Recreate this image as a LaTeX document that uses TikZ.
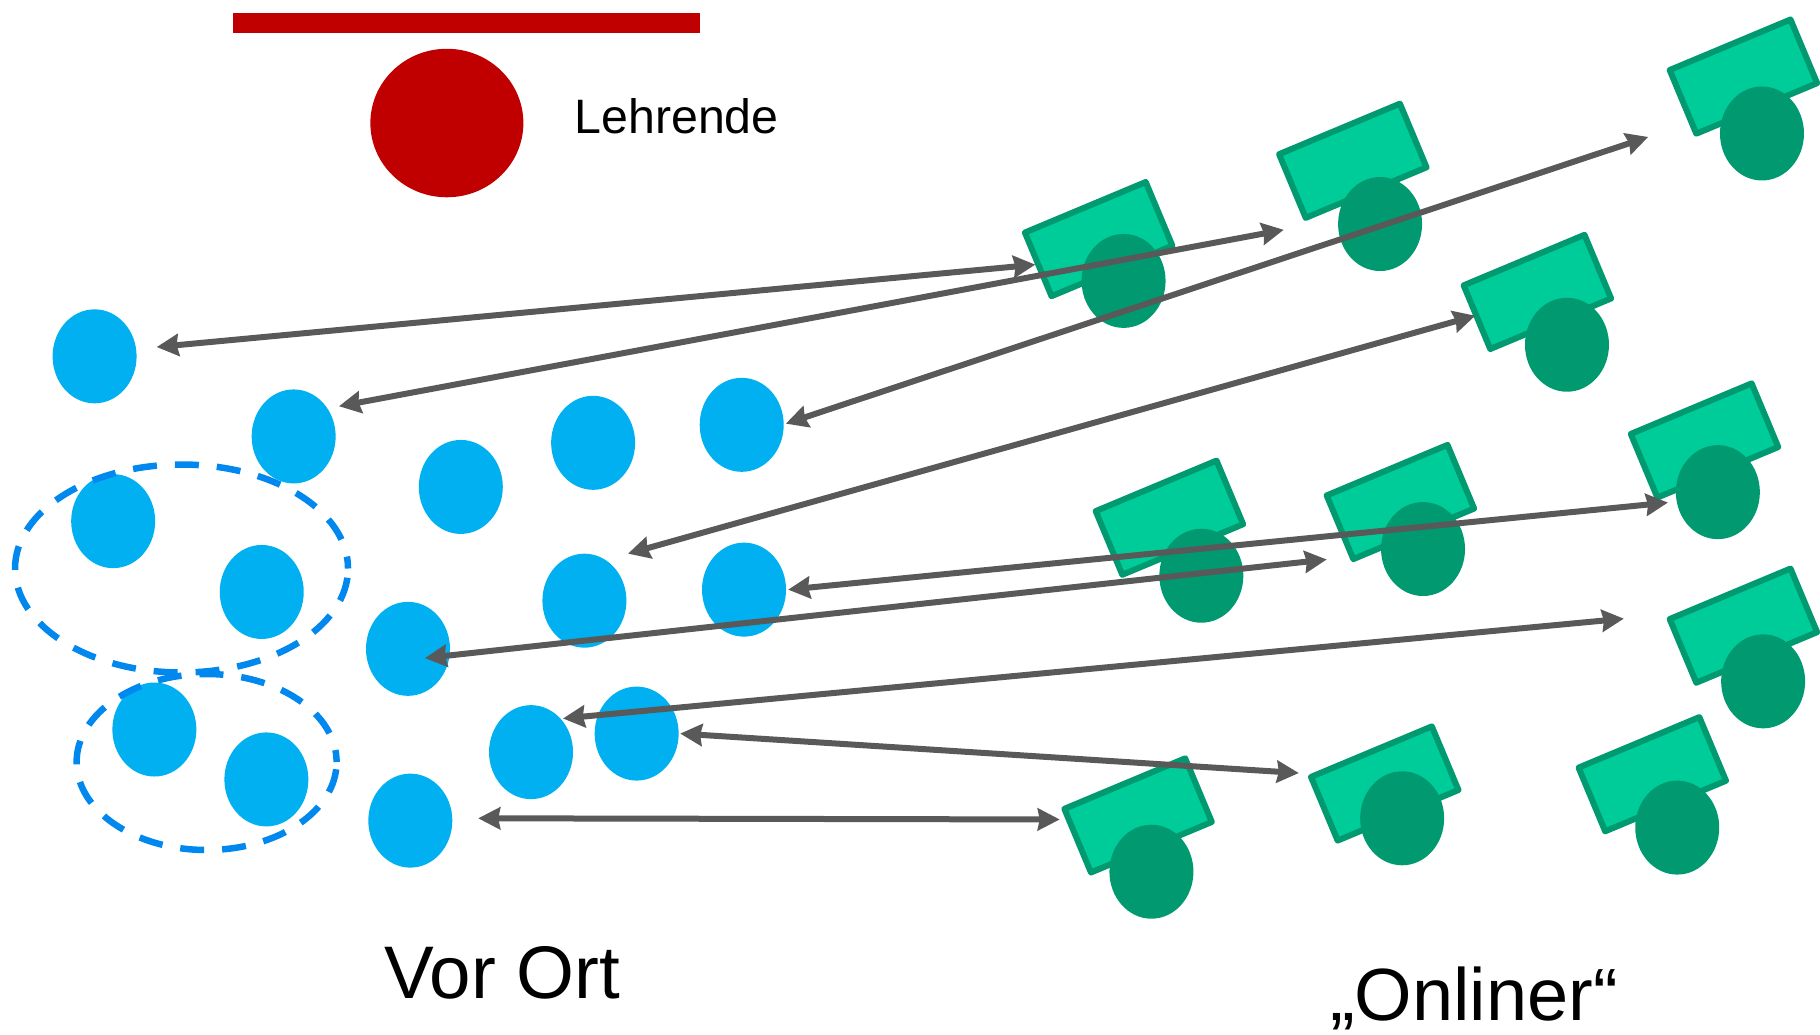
\documentclass[tikz,border=0pt]{standalone}
\usepackage{fontspec}
\setmainfont{Liberation Sans}
\usetikzlibrary{arrows.meta,shapes.geometric}
\definecolor{redc}{HTML}{C00000}
\definecolor{bluec}{HTML}{00B0F0}
\definecolor{dashc}{HTML}{0088EE}
\definecolor{screenc}{HTML}{00CC99}
\definecolor{greenc}{HTML}{009970}
\definecolor{arrowc}{HTML}{595959}
\tikzset{
 person/.style={ellipse,inner sep=0pt,outer sep=0pt,minimum width=84pt,minimum height=94pt,draw=none},
 local/.style={person,fill=bluec},
 remote/.style={person,fill=greenc},
 screen/.style={rectangle,rotate=22.7,minimum width=131pt,minimum height=69pt,inner sep=0pt,outer sep=0pt,fill=screenc,draw=greenc,line width=6pt,line join=round},
 group/.style={ellipse,inner sep=0pt,outer sep=0pt,draw=dashc,line width=6.5pt,dash pattern=on 24pt off 18pt,dash phase=12pt},
 link/.style={draw=arrowc,line width=6pt,{Stealth[length=22pt,width=22pt,inset=2pt]}-{Stealth[length=22pt,width=22pt,inset=2pt]}},
 label/.style={inner sep=0pt,outer sep=0pt,anchor=base west,text=black}
}
\begin{document}
\begin{tikzpicture}[x=1.16071pt,y=-1.16071pt]
\useasboundingbox (0,0) rectangle (1568,890.86);
% teacher
\node[rectangle,fill=redc,inner sep=0pt,minimum width=467pt,minimum height=20pt] (bar) at (402,19.5) {};
\node[ellipse,fill=redc,inner sep=0pt,minimum width=153pt,minimum height=148.5pt] (teacher) at (385,106) {};
\node[label,font=\fontsize{48.3}{58}\selectfont] (lt) at (495,115) {Lehrende};
% local participants
\node[local] (b1) at (81.5,307) {};
\node[local] (b2) at (253,376) {};
\node[local] (b3) at (397,419.5) {};
\node[local] (b4) at (511,381.5) {};
\node[local] (b5) at (639,366) {};
\node[local] (b6) at (97.5,449) {};
\node[local] (b7) at (225.5,510) {};
\node[local] (b8) at (351.5,559) {};
\node[local] (b9) at (503.5,517.5) {};
\node[local] (b10) at (641,508) {};
\node[local] (b11) at (133,628.5) {};
\node[local] (b12) at (229.5,671.5) {};
\node[local] (b13) at (353.5,707) {};
\node[local] (b14) at (457.5,648) {};
\node[local] (b15) at (548.5,632) {};
% groups
\node[group,minimum width=333pt,minimum height=208pt] (g1) at (156.4,489.8) {};
\node[group,minimum width=260pt,minimum height=176pt] (g2) at (178,656.5) {};
% online participants
\node[screen] (s1) at (946.5,206) {};
\node[remote] (r1) at (968,242) {};
\node[screen] (s2) at (1165.5,138.5) {};
\node[remote] (r2) at (1189,193) {};
\node[screen] (s3) at (1502,66) {};
\node[remote] (r3) at (1518,115) {};
\node[screen] (s4) at (1324.5,251.5) {};
\node[remote] (r4) at (1350,297) {};
\node[screen] (s5) at (1007.5,446) {};
\node[remote] (r5) at (1035,496) {};
\node[screen] (s6) at (1206.5,432.5) {};
\node[remote] (r6) at (1226,473) {};
\node[screen] (s7) at (1468.5,379.5) {};
\node[remote] (r7) at (1480,424) {};
\node[screen] (s8) at (1502,539) {};
\node[remote] (r8) at (1519,587) {};
\node[screen] (s9) at (980.5,702.5) {};
\node[remote] (r9) at (992,751) {};
\node[screen] (s10) at (1193,675) {};
\node[remote] (r10) at (1208,705) {};
\node[screen] (s11) at (1423.5,667) {};
\node[remote] (r11) at (1445,713) {};
% connector ends
\coordinate (a1) at (135,299); \coordinate (c1) at (892,228);
\coordinate (a2) at (292,350); \coordinate (c2) at (1106,198);
\coordinate (a3) at (677,365); \coordinate (c3) at (1420,118);
\coordinate (a4) at (541,477); \coordinate (c4) at (1271,272);
\coordinate (a5) at (679,508); \coordinate (c5) at (1437,433);
\coordinate (a6) at (366,567); \coordinate (c6) at (1143,482);
\coordinate (a7) at (485,619); \coordinate (c7) at (1399,533);
\coordinate (a8) at (586,632); \coordinate (c8) at (1119,666);
\coordinate (a9) at (412,705); \coordinate (c9) at (913,706);
\draw[link] (a1) -- (c1);
\draw[link] (a2) -- (c2);
\draw[link] (a3) -- (c3);
\draw[link] (a4) -- (c4);
\draw[link] (a5) -- (c5);
\draw[link] (a6) -- (c6);
\draw[link] (a7) -- (c7);
\draw[link] (a8) -- (c8);
\draw[link] (a9) -- (c9);
% captions
\node[label,font=\fontsize{74.5}{90}\selectfont] (vo) at (331,860) {Vor Ort};
\node[label,font=\fontsize{74}{88}\selectfont] (on) at (1146,879) {„Onliner“};
\end{tikzpicture}
\end{document}
